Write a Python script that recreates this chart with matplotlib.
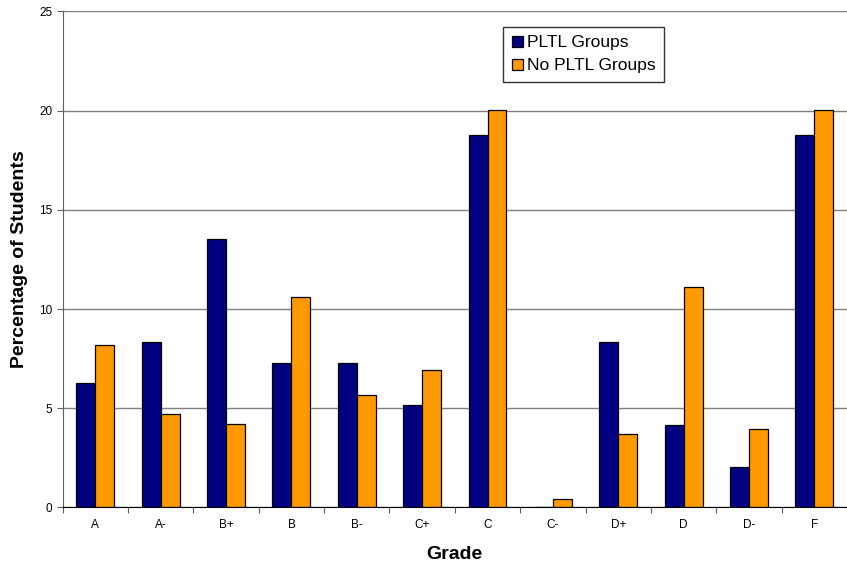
import numpy as np
import matplotlib.pyplot as plt
from matplotlib.ticker import FixedLocator, NullFormatter

plt.rcParams['font.family'] = ['Liberation Sans', 'DejaVu Sans']

grades = ['A', 'A-', 'B+', 'B', 'B-', 'C+', 'C', 'C-', 'D+', 'D', 'D-', 'F']
pltl = [6.25, 8.33, 13.55, 7.27, 7.27, 5.18, 18.75, 0.0, 8.33, 4.14, 2.06, 18.75]
no_pltl = [8.18, 4.70, 4.20, 10.62, 5.67, 6.91, 20.05, 0.45, 3.69, 11.12, 3.94, 20.05]

x = np.arange(len(grades))
w = 0.29

fig = plt.figure(figsize=(8.47, 5.65), dpi=100)
ax = fig.add_axes([0.074, 0.1018, 0.926, 0.8782])

ax.set_axisbelow(True)
ax.yaxis.grid(True, color='#808080', linewidth=1)
ax.bar(x - w / 2, pltl, w, color='#000080', edgecolor='black', linewidth=0.9, label='PLTL Groups')
ax.bar(x + w / 2, no_pltl, w, color='#FF9900', edgecolor='black', linewidth=0.9, label='No PLTL Groups')

ax.set_xlim(-0.5, len(grades) - 0.5)
ax.set_ylim(0, 25)
ax.set_yticks([0, 5, 10, 15, 20, 25])

# group boundaries carry the tick marks, labels sit at group centres
ax.xaxis.set_major_locator(FixedLocator(np.arange(-0.5, len(grades), 1.0)))
ax.xaxis.set_major_formatter(NullFormatter())
ax.xaxis.set_minor_locator(FixedLocator(x))
ax.set_xticklabels(grades, minor=True)
ax.tick_params(axis='x', which='major', length=4, direction='out', color='#606060')
ax.tick_params(axis='x', which='minor', length=0, labelsize=8.5, pad=8)
ax.tick_params(axis='y', length=4, direction='out', color='#606060', labelsize=8.5)

for s in ['top', 'right']:
    ax.spines[s].set_visible(False)
ax.spines['left'].set_color('#606060')
ax.spines['bottom'].set_color('black')

ax.set_xlabel('Grade', fontsize=14, fontweight='bold', labelpad=11)
ax.set_ylabel('Percentage of Students', fontsize=14, fontweight='bold', labelpad=8)

leg = ax.legend(loc='upper left', bbox_to_anchor=(0.562, 0.969), fontsize=12.5, frameon=True,
                fancybox=False, edgecolor='black', handlelength=0.6, handleheight=0.6,
                handletextpad=0.25, borderpad=0.5, labelspacing=0.45, borderaxespad=0)
leg.get_frame().set_linewidth(1)

fig.savefig('out.png', dpi=100)
